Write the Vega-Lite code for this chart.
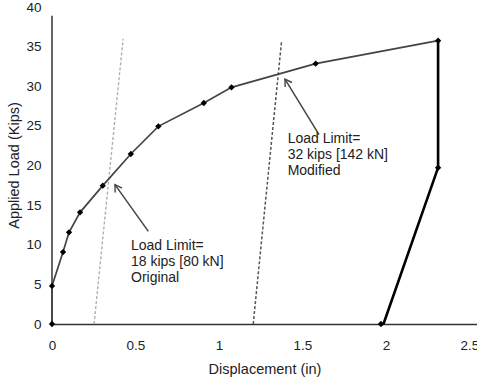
{
  "$schema": "https://vega.github.io/schema/vega-lite/v6.json",
  "width": 425,
  "height": 317,
  "autosize": {"type": "none"},
  "padding": {"left": 52, "top": 7, "right": 0, "bottom": 58},
  "background": "white",
  "config": {
    "view": {"stroke": null},
    "font": "Liberation Sans",
    "axis": {"grid": false, "ticks": false, "tickSize": 0, "labelColor": "#222", "titleColor": "#222", "labelFont": "Liberation Sans", "titleFont": "Liberation Sans", "labelFontSize": 13.5, "titleFontSize": 14.5, "titleFontWeight": "normal", "labelOverlap": false, "labelFlush": false}
  },
  "datasets": {
    "curve": [
      {"x": 0, "y": 0}, {"x": 0, "y": 4.8}, {"x": 0.066, "y": 9.08}, {"x": 0.102, "y": 11.57},
      {"x": 0.168, "y": 14.09}, {"x": 0.304, "y": 17.46}, {"x": 0.472, "y": 21.45},
      {"x": 0.637, "y": 24.94}, {"x": 0.909, "y": 27.89}, {"x": 1.075, "y": 29.86},
      {"x": 1.579, "y": 32.85}, {"x": 2.312, "y": 35.75}
    ],
    "unload": [
      {"x": 2.312, "y": 35.75}, {"x": 2.312, "y": 19.73}, {"x": 1.985, "y": 0}
    ],
    "markers": [
      {"x": 0, "y": 0}, {"x": 0, "y": 4.8}, {"x": 0.066, "y": 9.08}, {"x": 0.102, "y": 11.57},
      {"x": 0.168, "y": 14.09}, {"x": 0.304, "y": 17.46}, {"x": 0.472, "y": 21.45},
      {"x": 0.637, "y": 24.94}, {"x": 0.909, "y": 27.89}, {"x": 1.075, "y": 29.86},
      {"x": 1.579, "y": 32.85}, {"x": 2.312, "y": 35.75}, {"x": 2.312, "y": 19.73}, {"x": 1.97, "y": 0}
    ],
    "orig": [{"x": 0.252, "y": 0}, {"x": 0.426, "y": 36.0}],
    "mod": [{"x": 1.205, "y": 0}, {"x": 1.375, "y": 35.75}],
    "yaxis": [{"x": 0, "y": 0, "y2": 38.9}],
    "arrows": [
      {"x": 0.577, "y": 11.68, "x2": 0.377, "y2": 17.58},
      {"x": 1.599, "y": 23.9, "x2": 1.395, "y2": 30.9}
    ],
    "heads": [
      {"x": 0.377, "y": 17.58},
      {"x": 1.395, "y": 30.9}
    ],
    "labels": [
      {"x": 0.473, "y": 9.37, "text": "Load Limit=\n18 kips [80 kN]\nOriginal"},
      {"x": 1.411, "y": 22.9, "text": "Load Limit=\n32 kips [142 kN]\nModified"}
    ]
  },
  "encoding": {
    "x": {"field": "x", "type": "quantitative", "scale": {"domain": [0, 2.545], "nice": false, "zero": true},
          "axis": {"values": [0, 0.5, 1, 1.5, 2, 2.5], "format": "~g", "title": "Displacement (in)", "domainColor": "#333", "domainWidth": 1.5, "labelPadding": 14, "titleY": 49, "titleBaseline": "alphabetic"}},
    "y": {"field": "y", "type": "quantitative", "scale": {"domain": [0, 40], "nice": false},
          "axis": {"values": [0, 5, 10, 15, 20, 25, 30, 35, 40], "format": "~g", "title": "Applied Load (Kips)", "domain": false, "labelPadding": 11, "titleX": -34, "titleY": 158, "titleAngle": 270, "titleBaseline": "alphabetic"}}
  },
  "layer": [
    {
      "data": {"name": "yaxis"},
      "mark": {"type": "rule", "color": "#333", "strokeWidth": 1.5},
      "encoding": {"y2": {"field": "y2"}}
    },
    {
      "data": {"name": "orig"},
      "mark": {"type": "line", "color": "#b0b0b0", "strokeWidth": 1.4, "strokeDash": [3, 2]},
      "encoding": {}
    },
    {
      "data": {"name": "mod"},
      "mark": {"type": "line", "color": "#555", "strokeWidth": 1.5, "strokeDash": [3, 2]},
      "encoding": {}
    },
    {
      "data": {"name": "curve"},
      "mark": {"type": "line", "color": "#444", "strokeWidth": 1.7},
      "encoding": {}
    },
    {
      "data": {"name": "unload"},
      "mark": {"type": "line", "color": "#000", "strokeWidth": 2.6},
      "encoding": {"order": {"field": "y", "sort": "descending"}}
    },
    {
      "data": {"name": "markers"},
      "mark": {"type": "point", "shape": "diamond", "filled": true, "color": "#000", "size": 40, "opacity": 1}
    },
    {
      "data": {"name": "arrows"},
      "mark": {"type": "rule", "color": "#444", "strokeWidth": 1.5},
      "encoding": {"x2": {"field": "x2"}, "y2": {"field": "y2"}}
    },
    {
      "data": {"name": "heads"},
      "mark": {"type": "point", "shape": "M-0.55,0.9L0,0L0.55,0.9", "filled": false, "stroke": "#444", "strokeWidth": 1.4, "size": 220, "angle": 327, "opacity": 1}
    },
    {
      "data": {"name": "labels"},
      "mark": {"type": "text", "align": "left", "baseline": "alphabetic", "fontSize": 14, "lineHeight": 16.2, "lineBreak": "\n", "color": "#222", "font": "Liberation Sans"},
      "encoding": {"text": {"field": "text"}}
    }
  ]
}
